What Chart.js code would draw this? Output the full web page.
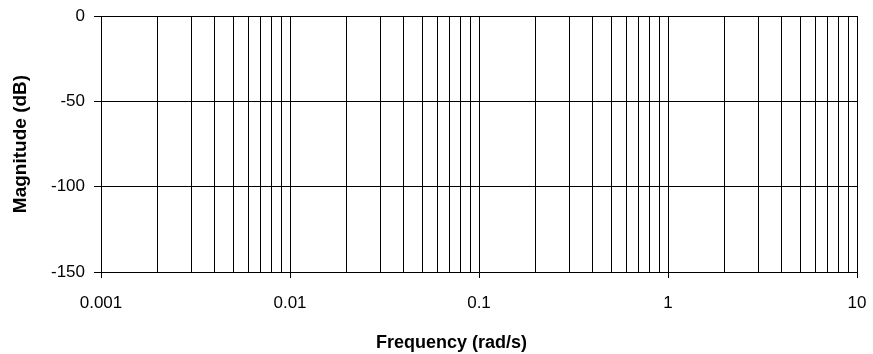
<!DOCTYPE html>
<html>
<head>
<meta charset="utf-8">
<script src="https://cdn.jsdelivr.net/npm/chart.js@4"></script>
<style>
  html, body { margin: 0; padding: 0; background: #fff; }
  #bodeChart { display: block; }
</style>
</head>
<body>
<canvas id="bodeChart" width="873" height="354"></canvas>
<script>
// frequency grid: 1..9 in every decade from 0.001 to 10 rad/s
const decades = [0.001, 0.01, 0.1, 1];
const multipliers = [1, 2, 3, 4, 5, 6, 7, 8, 9];
const xTickLabels = ['0.001', '0.01', '0.1', '1', '10'];
const yTickValues = [0, -50, -100, -150];
// no response curve was plotted in the source chart
const magnitudeData = [];

const xTickValues = [];
decades.forEach((d) => {
    multipliers.forEach((m) => {
        xTickValues.push(Math.round(d * m * 1e6) / 1e6);
    });
});
xTickValues.push(10);

function isDecade(v) {
    const l = Math.log10(v);
    return Math.abs(l - Math.round(l)) < 1e-9;
}

const ctx = document.getElementById('bodeChart').getContext('2d');
Chart.defaults.font.family = '"Liberation Sans", Arial, sans-serif';
Chart.defaults.color = '#000';

const chart = new Chart(ctx, {
    type: 'line',
    data: {
        datasets: [{
            label: 'Magnitude',
            data: magnitudeData,
            borderColor: '#000',
            borderWidth: 1,
            pointRadius: 0
        }]
    },
    options: {
        responsive: false,
        animation: false,
        devicePixelRatio: 1,
        layout: {
            padding: { top: 16, right: 16, left: 0, bottom: 0 }
        },
        plugins: {
            legend: { display: false },
            tooltip: { enabled: false }
        },
        scales: {
            x: {
                type: 'logarithmic',
                min: 0.001,
                max: 10,
                afterBuildTicks: (scale) => {
                    scale.ticks = xTickValues.map((v) => ({ value: v, major: isDecade(v) }));
                },
                afterFit: (scale) => {
                    scale.height = 82;
                    scale.paddingLeft = 0;
                    scale.paddingRight = 0;
                },
                border: { color: '#000', width: 1 },
                grid: {
                    color: '#000',
                    lineWidth: 1,
                    tickLength: 6,
                    tickColor: (c) => (c.tick && isDecade(c.tick.value)) ? '#000' : 'rgba(0,0,0,0)'
                },
                ticks: {
                    autoSkip: false,
                    maxRotation: 0,
                    padding: 15,
                    font: { size: 17 },
                    callback: (value) => {
                        if (!isDecade(value)) return '';
                        return xTickLabels[Math.round(Math.log10(value)) + 3];
                    }
                },
                title: {
                    display: true,
                    // trailing spaces pull the title left like in the original
                    text: 'Frequency (rad/s)           ',
                    font: { size: 18, weight: 'bold' },
                    padding: { top: 0, bottom: 0 }
                }
            },
            y: {
                type: 'linear',
                min: -150,
                max: 0,
                afterBuildTicks: (scale) => {
                    scale.ticks = yTickValues.map((v) => ({ value: v }));
                },
                afterFit: (scale) => {
                    scale.width = 101;
                    scale.paddingTop = 0;
                    scale.paddingBottom = 0;
                },
                border: { color: '#000', width: 1 },
                grid: {
                    color: '#000',
                    lineWidth: 1,
                    tickLength: 7,
                    tickColor: '#000'
                },
                ticks: {
                    padding: 9,
                    font: { size: 17 },
                    callback: (value) => String(value)
                },
                title: {
                    display: true,
                    text: 'Magnitude (dB)',
                    font: { size: 19, weight: 'bold' },
                    padding: { top: 9, bottom: 0 }
                }
            }
        }
    }
});
</script>
</body>
</html>
